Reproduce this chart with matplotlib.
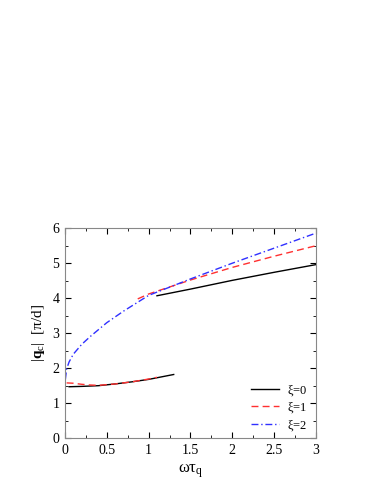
import numpy as np
import matplotlib.pyplot as plt
from matplotlib.ticker import MultipleLocator

plt.rcParams['font.family'] = ['Liberation Serif', 'DejaVu Serif']
plt.rcParams['mathtext.fontset'] = 'custom'
plt.rcParams['mathtext.rm'] = 'Liberation Serif'
plt.rcParams['mathtext.it'] = 'Liberation Serif'
plt.rcParams['mathtext.bf'] = 'Liberation Serif:bold'

# xi = 0, lower and upper branch
x0_low = [0.05, 0.2, 0.4, 0.6, 0.8, 1.0, 1.15, 1.3]
y0_low = [1.47, 1.48, 1.50, 1.55, 1.61, 1.68, 1.75, 1.82]
x0_up = [1.1, 1.5, 2.0, 2.5, 3.0]
y0_up = [4.07, 4.26, 4.51, 4.74, 4.96]

# xi = 1
x1_low = [0.02, 0.1, 0.2, 0.3, 0.4, 0.6, 0.8, 1.0, 1.1]
y1_low = [1.58, 1.57, 1.54, 1.52, 1.51, 1.55, 1.61, 1.69, 1.74]
x1_up = [0.87, 1.0, 1.2, 1.5, 2.0, 2.5, 3.0]
y1_up = [3.98, 4.12, 4.28, 4.52, 4.88, 5.2, 5.5]

# xi = 2
x2 = [0.005, 0.02, 0.05, 0.1, 0.2, 0.3, 0.5, 0.7, 1.0, 1.5, 2.0, 2.5, 3.0]
y2 = [1.68, 1.98, 2.18, 2.4, 2.68, 2.9, 3.3, 3.63, 4.08, 4.55, 5.0, 5.43, 5.86]

fig = plt.figure(figsize=(3.82, 4.94), dpi=100)
ax = fig.add_axes([0.170, 0.113, 0.657, 0.425])

ax.plot(x0_low, y0_low, color='black', lw=1.0, label=r'$\xi$=0')
ax.plot(x0_up, y0_up, color='black', lw=1.0)
ax.plot(x1_low, y1_low, color='#ff3030', lw=1.0, dashes=(5, 3), label=r'$\xi$=1')
ax.plot(x1_up, y1_up, color='#ff3030', lw=1.0, dashes=(5, 3))
ax.plot(x2, y2, color='#3030ff', lw=1.0, dashes=(5, 2, 1, 2), label=r'$\xi$=2')

ax.set_xlim(0, 3)
ax.set_ylim(0, 6)
ax.xaxis.set_major_locator(MultipleLocator(0.5))
ax.xaxis.set_minor_locator(MultipleLocator(0.25))
ax.yaxis.set_major_locator(MultipleLocator(1))
ax.yaxis.set_minor_locator(MultipleLocator(0.5))
ax.xaxis.set_major_formatter(plt.FuncFormatter(lambda v, p: '%g' % v))
ax.tick_params(which='both', direction='in', top=True, right=True, labelsize=10, pad=4)
ax.tick_params(which='major', length=4)
ax.tick_params(which='minor', length=2)
for s in ax.spines.values():
    s.set_color('#888888')
    s.set_linewidth(0.8)

ax.set_xlabel(r'$\omega\tau_\mathrm{q}$', fontsize=12)
ax.set_ylabel(r'$|\mathbf{q}_\mathrm{c}|$  [$\pi$/d]', fontsize=11)

ax.legend(loc='lower right', frameon=False, fontsize=9, handlelength=2.3,
          labelspacing=0.2, handletextpad=0.6, borderaxespad=0.3,
          bbox_to_anchor=(1.0, -0.015))

fig.savefig('out.png', dpi=100)
